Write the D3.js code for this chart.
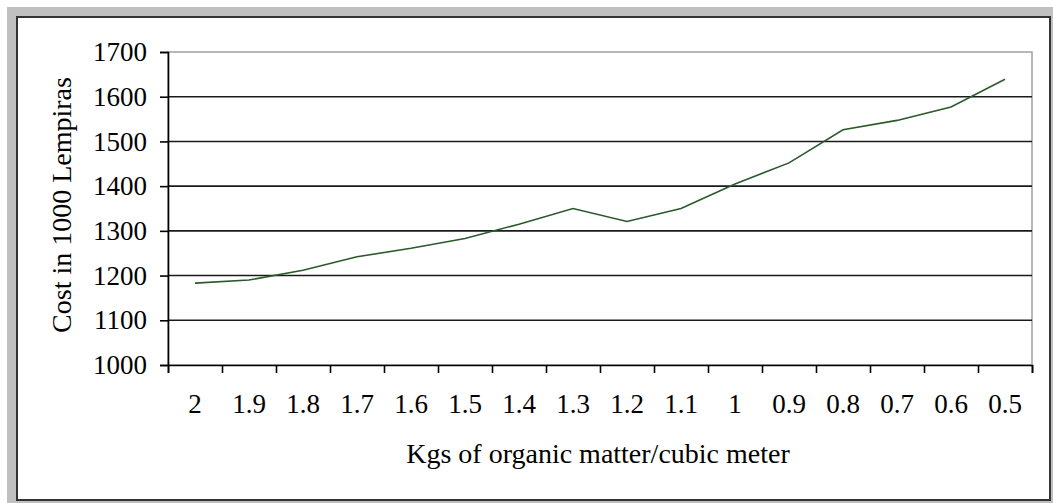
<!DOCTYPE html>
<html>
<head>
<meta charset="utf-8">
<script src="https://cdn.jsdelivr.net/npm/d3@7"></script>
<style>
  body { margin: 0; background: #fff; }
  svg text { font-family: "Liberation Serif", "Times New Roman", serif; fill: #000; }
</style>
</head>
<body>
<div id="chart"></div>
<script>
// data
const kgs = ["2", "1.9", "1.8", "1.7", "1.6", "1.5", "1.4", "1.3", "1.2", "1.1", "1", "0.9", "0.8", "0.7", "0.6", "0.5"];
const cost = [1183, 1190, 1212, 1242, 1261, 1283, 1315, 1350, 1321, 1350, 1405, 1452, 1526, 1547, 1577, 1639];
const yTicks = [1000, 1100, 1200, 1300, 1400, 1500, 1600, 1700];

let W = 1053, H = 503;
let plotLeft = 168, plotRight = 1032, plotTop = 52, plotBottom = 365;

let svg = d3.select("#chart").append("svg")
    .attr("width", W)
    .attr("height", H);

// window-ish frame
svg.append("rect").attr("x", 7).attr("y", 7).attr("width", W - 7).attr("height", H - 7).attr("fill", "#c0c0c0");
svg.append("rect").attr("x", 17).attr("y", 17).attr("width", 1050 - 17).attr("height", 500 - 17)
    .attr("fill", "#fff").attr("stroke", "#333").attr("stroke-width", 2);

let xScale = d3.scaleBand().domain(kgs).range([plotLeft, plotRight]);
let tickScale = d3.scaleLinear().domain([0, kgs.length]).range([plotLeft, plotRight]);
let yScale = d3.scaleLinear().domain([1000, 1700]).range([plotBottom, plotTop]);

// plot area border (grey)
svg.append("rect").attr("x", plotLeft).attr("y", plotTop).attr("width", plotRight - plotLeft).attr("height", plotBottom - plotTop)
    .attr("fill", "none").attr("stroke", "#a0a0a0").attr("stroke-width", 1.5);

// gridlines
svg.append("g").selectAll("line")
    .data(yTicks.filter(d => d > 1000 && d < 1700))
    .enter().append("line")
    .attr("x1", plotLeft).attr("x2", plotRight)
    .attr("y1", d => yScale(d)).attr("y2", d => yScale(d))
    .attr("stroke", "#1a1a1a").attr("stroke-width", 1.6);

// left axis
let yAxis = svg.append("g")
    .attr("transform", "translate(" + plotLeft + ",0)")
    .call(d3.axisLeft(yScale).tickValues(yTicks).tickSize(8).tickPadding(13).tickFormat(d3.format("d")));
yAxis.select(".domain").attr("stroke", "#000").attr("stroke-width", 1.6);
yAxis.selectAll(".tick line").attr("stroke", "#000").attr("stroke-width", 1.6);
yAxis.selectAll("text").style("font-size", "27px").style("font-family", "Liberation Serif");

// bottom axis, ticks between categories
let xAxis = svg.append("g")
    .attr("transform", "translate(0," + plotBottom + ")")
    .call(d3.axisBottom(tickScale).tickValues(d3.range(kgs.length + 1)).tickSize(8).tickFormat(""));
xAxis.select(".domain").attr("stroke", "#000").attr("stroke-width", 1.6);
xAxis.selectAll(".tick line").attr("stroke", "#000").attr("stroke-width", 1.6);

svg.append("g").selectAll("text")
    .data(kgs)
    .enter().append("text")
    .attr("x", d => xScale(d) + xScale.bandwidth() / 2)
    .attr("y", 413)
    .attr("text-anchor", "middle")
    .style("font-size", "27px")
    .text(d => d);

// the line
let line = d3.line()
    .x((d, i) => xScale(kgs[i]) + xScale.bandwidth() / 2)
    .y(d => yScale(d));

svg.append("path")
    .datum(cost)
    .attr("d", line)
    .attr("fill", "none")
    .attr("stroke", "#2a5a2a")
    .attr("stroke-width", 1.6);

// axis titles
svg.append("text")
    .attr("x", 598)
    .attr("y", 463)
    .attr("text-anchor", "middle")
    .style("font-size", "28px")
    .text("Kgs of organic matter/cubic meter");

svg.append("text")
    .attr("transform", "rotate(-90)")
    .attr("x", -205)
    .attr("y", 71)
    .attr("text-anchor", "middle")
    .style("font-size", "28px")
    .text("Cost in 1000 Lempiras");
</script>
</body>
</html>
